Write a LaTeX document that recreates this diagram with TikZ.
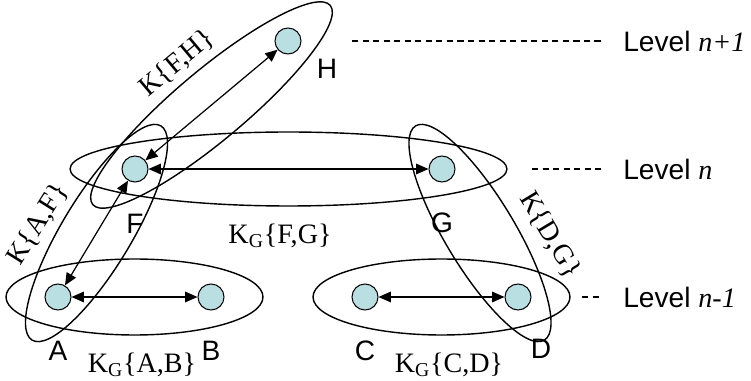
\documentclass[tikz,border=0pt]{standalone}
\usepackage{fontspec}
\setmainfont{Liberation Serif}
\setsansfont{Liberation Sans}
\usetikzlibrary{positioning, arrows.meta, calc}
\definecolor{nodecyan}{HTML}{B9DFE2}
\newcommand{\lvlidx}[1]{\textrm{\textit{#1}}}

\begin{document}
\begin{tikzpicture}[x=0.02cm, y=-0.02cm,
  vert/.style={circle, draw, fill=nodecyan, minimum size=0.52cm, inner sep=0pt, line width=0.6pt},
  tag/.style={inner sep=0pt, font=\sffamily\fontsize{16}{19}\selectfont},
  kset/.style={inner sep=0pt, font=\fontsize{16}{19}\selectfont},
  lvl/.style={anchor=west, inner sep=0pt, font=\sffamily\fontsize{16}{19}\selectfont},
  grp/.style={line width=0.8pt},
  biarr/.style={{Triangle[length=7pt,width=6pt]}-{Triangle[length=7pt,width=6pt]}, line width=0.7pt},
  lvline/.style={dash pattern=on 3.5pt off 2.5pt, line width=0.6pt, shorten >=0.42cm}]
  \useasboundingbox (0,0) rectangle (751,381);
  % vertices
  \node[vert] (H) at (288,41) {};
  \node[vert] (F) at (135,169) {};
  \node[vert] (G) at (442,169) {};
  \node[vert] (A) at (58,297) {};
  \node[vert] (B) at (211,297) {};
  \node[vert] (C) at (365,297) {};
  \node[vert] (D) at (518,297) {};
  % groups
  \draw[grp] ($(A)!0.5!(B)$) ellipse [x radius=2.57cm, y radius=0.76cm];
  \draw[grp] ($(C)!0.5!(D)$) ellipse [x radius=2.57cm, y radius=0.76cm];
  \draw[grp] ($(F)!0.5!(G)$) ellipse [x radius=4.37cm, y radius=0.74cm];
  \draw[grp] ($(F)!0.5!(H)$) ellipse [x radius=3.1cm, y radius=0.7cm, rotate=40];
  \draw[grp] ($(A)!0.5!(F)$) ellipse [x radius=2.5cm, y radius=0.7cm, rotate=59];
  \draw[grp] ($(G)!0.5!(D)$) ellipse [x radius=2.5cm, y radius=0.7cm, rotate=-59];
  % links
  \draw[biarr] (A) -- (B);
  \draw[biarr] (C) -- (D);
  \draw[biarr] (F) -- (G);
  \draw[biarr] (F) -- (H);
  \draw[biarr] (A) -- (F);
  % vertex names
  \node[tag, below=0.6cm of A] (Alab) {A};
  \node[tag, below=0.6cm of B] (Blab) {B};
  \node[tag, below=0.6cm of C] (Clab) {C};
  \node[tag, below right=0.64cm and 0.06cm of D] (Dlab) {D};
  \node[tag, below=0.62cm of F] (Flab) {F};
  \node[tag, below=0.6cm of G] (Glab) {G};
  \node[tag, below right=0.16cm and 0.38cm of H] (Hlab) {H};
  % group names
  \node[kset] (kab) at (142,365) {K\textsubscript{G}\{A,B\}};
  \node[kset] (kcd) at (449,365) {K\textsubscript{G}\{C,D\}};
  \node[kset] (kfg) at (280,236) {K\textsubscript{G}\{F,G\}};
  \node[kset, rotate=40] (kfh) at (177,63) {K\{F,H\}};
  \node[kset, rotate=58] (kaf) at (38,224) {K\{A,F\}};
  \node[kset, rotate=-59] (kdg) at (550,235) {K\{D,G\}};
  % levels
  \node[lvl] (lv1) at (623,41) {Level \lvlidx{n+1}};
  \node[lvl] (lv0) at (623,169) {Level \lvlidx{n}};
  \node[lvl] (lvm) at (623,297) {Level \lvlidx{n-1}};
  \coordinate (d1) at (352,41);
  \coordinate (d0) at (532,169);
  \coordinate (dm) at (582,297);
  \draw[lvline] (d1) -- (lv1.west);
  \draw[lvline] (d0) -- (lv0.west);
  \draw[lvline] (dm) -- (lvm.west);
\end{tikzpicture}
\end{document}
